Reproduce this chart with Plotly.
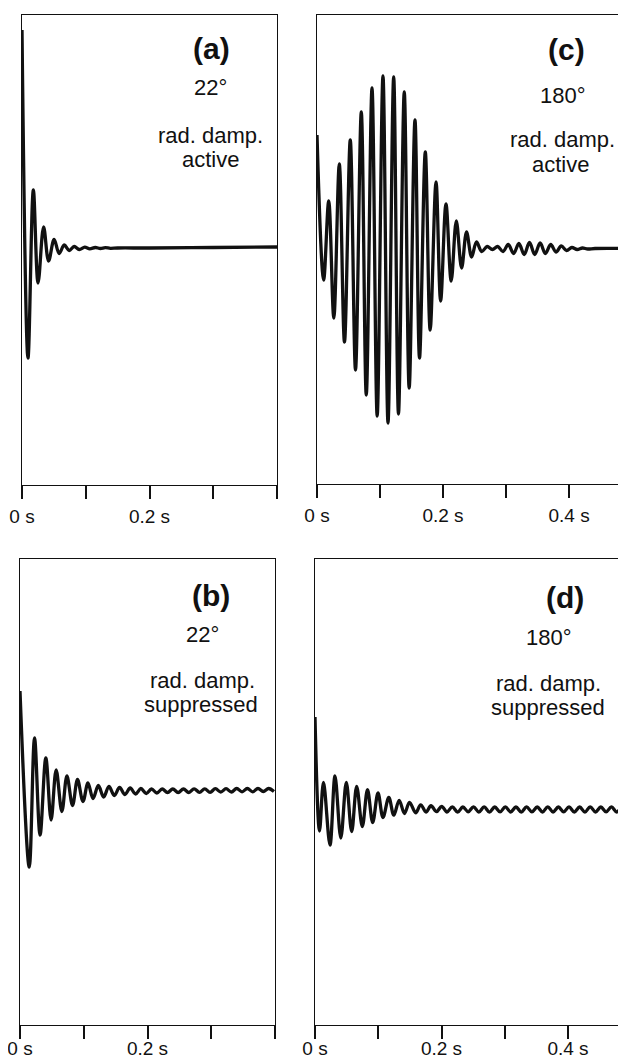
import plotly.graph_objects as go

# The page adds an 8 px body margin, so the figure is drawn 8 px smaller
# and all layout positions below are given in screen pixels minus that offset.
OFF = 8
W, H = 626 - OFF, 1059 - OFF

# ---- data (time in ms, amplitude in arbitrary units) ----
a_t = [0.0, 9.4, 17.8, 25.2, 33.9, 41.7, 50.4, 58.3, 66.2, 74.0, 81.9, 89.8,
       98.4, 106.3, 115.0, 122.9, 130.7, 138.6, 150.0, 200.0, 300.0, 400.0]
a_v = [218, -110, 58, -35, 21, -13, 8.5, -5.5, 3, -2.5, 1.5, -1.5,
       0.8, -0.8, 0.5, -0.5, 0.3, -0.3, 0, 0, 0.5, 1]

c_t = [0.0, 10.5, 18.6, 26.7, 35.4, 43.6, 52.8, 61.1, 70.3, 78.2, 87.3, 95.5,
       104.7, 112.7, 121.7, 129.3, 138.5, 146.3, 155.5, 162.7, 171.9, 179.6,
       188.9, 196.2, 204.7, 213.0, 221.1, 229.5, 237.3, 245.4, 253.1, 261.5,
       270.0, 278.4, 286.8, 295.2, 303.6, 312.0, 320.4, 328.8, 337.2, 345.6,
       354.1, 362.5, 370.9, 379.3, 387.7, 396.1, 404.5, 412.9, 421.3, 429.8,
       441.2, 495.0]
c_v = [113, -32, 47, -70, 84, -94, 108, -122, 136, -147, 160, -168,
       172, -175, 171, -166, 156, -140, 128, -110, 96, -82,
       66, -53, 44, -33, 27, -20, 16, -9, 6, -3.5,
       1.5, -1.5, 1.5, -3.5, 3.5, -5.5, 4.5, -6.5, 5.5, -6.5,
       5, -5.5, 3.5, -4, 2, -2.5, 0.5, -1.5, 0, -1,
       -0.5, -0.5]

b_t = [0.0, 14.5, 22.8, 31.5, 40.5, 48.8, 56.7, 65.7, 73.6, 82.4, 90.2, 98.8,
       106.6, 114.5, 122.9, 131.2, 139.5, 147.9, 156.2, 164.6, 172.9, 181.3,
       189.6, 198.0, 206.3, 214.7, 223.0, 231.4, 239.7, 248.1, 256.4, 264.8,
       273.1, 281.5, 289.8, 298.2, 306.5, 314.9, 323.2, 331.6, 339.9, 348.3,
       356.6, 365.0, 373.3, 381.7, 390.0, 398.4]
b_v = [99, -77, 52, -45, 32, -30, 20, -21.5, 14, -15.5, 10.5, -11.5,
       7, -8.5, 4.5, -7, 3.5, -5.5, 2.5, -4.5, 2, -4, 1.5, -3.5,
       1, -3, 1, -2.5, 1, -2.5, 1, -2.5, 1.2, -2.3, 1.2, -2.3,
       1.3, -2, 1.3, -2, 1.5, -1.8, 1.5, -1.8, 1.5, -1.5, 1.5, -1.5]

d_t = [0.0, 7.1, 13.4, 23.7, 31.6, 40.8, 49.5, 58.0, 65.9, 74.8, 83.0, 91.2,
       99.6, 107.5, 116.7, 124.6, 133.1, 141.5, 149.4, 159.2, 167.1, 175.5,
       183.4, 192.1, 200.3, 208.7, 217.1, 225.5, 233.8, 242.2, 250.6, 259.0,
       267.4, 275.8, 284.2, 292.6, 300.9, 309.3, 317.7, 326.1, 334.5, 342.9,
       351.3, 359.7, 368.0, 376.4, 384.8, 393.2, 401.6, 410.0, 418.4, 426.8,
       435.1, 443.5, 451.9, 460.3, 468.7, 477.1, 485.5, 493.9]
d_v = [91, -23, 25.5, -37, 32, -30, 25.5, -23.5, 21.5, -18.5, 18.3, -14.5,
       15, -9.5, 10.7, -7.2, 7.7, -5.5, 5.7, -4.8, 3.2, -4, 2.3, -3.7,
       1.7, -4, 1.2, -4.2, 1.0, -3.8, 1.2, -4, 1.1, -4.1, 1.0, -3.9,
       1.2, -4, 1.0, -4.1, 1.1, -3.9, 1.0, -4, 1.2, -4, 1.0, -3.9,
       1.1, -4, 1.0, -4.1, 1.2, -4, 1.0, -3.9, 1.1, -4, 1.0, -4]

tick_vals = [0, 100, 200, 300, 400]
tick_text_left = ["0 s", "", "0.2 s", "", ""]
tick_text_right = ["0 s", "", "0.2 s", "", "0.4 s"]


def px_x(x):
    return (x - OFF) / W


def px_y(y):
    return 1 - (y - OFF) / H


panels = [
    # key, t, v, x-left px, x-right px, y-top px, y-bottom px, x range, y range,
    # right border, label standoff, tick texts
    ("", a_t, a_v, 22, 277, 15, 485, [0, 400], [-237, 233], True, 1, tick_text_left),
    ("2", c_t, c_v, 317, 626, 15, 484, [0, 490.4], [-236, 233], False, 1, tick_text_right),
    ("3", b_t, b_v, 20, 275, 559, 1025, [0, 400], [-235, 231], True, -7, tick_text_left),
    ("4", d_t, d_v, 315, 626, 559, 1025, [0, 491.7], [-217, 249], False, -7, tick_text_right),
]

INK = "#111111"
FONT = "Liberation Sans, Arial, Helvetica, sans-serif"

fig = go.Figure()
layout = dict(template="none", width=W, height=H,
              margin=dict(l=0, r=0, t=0, b=0, pad=0, autoexpand=False),
              paper_bgcolor="white", plot_bgcolor="white", showlegend=False,
              font=dict(family=FONT, color=INK))

for key, t, v, xl, xr, yt, yb, xrng, yrng, rb, so, ttext in panels:
    fig.add_trace(go.Scatter(x=t, y=v, mode="lines",
                             line=dict(color=INK, width=3.3, shape="spline", smoothing=1.0),
                             xaxis="x" + key, yaxis="y" + key, hoverinfo="skip"))
    layout["xaxis" + key] = dict(
        domain=[px_x(xl), px_x(xr)], range=xrng, anchor="y" + key, automargin=False,
        showline=True, linecolor=INK, linewidth=1.3, mirror=True,
        ticks="outside", ticklen=13, tickwidth=1.5, tickcolor=INK,
        tickvals=tick_vals, ticktext=ttext, showgrid=False, zeroline=False,
        ticklabelstandoff=so, ticklabeloverflow="allow",
        tickfont=dict(family=FONT, size=19, color=INK),
        fixedrange=True)
    layout["yaxis" + key] = dict(
        domain=[px_y(yb), px_y(yt)], range=yrng, anchor="x" + key, automargin=False,
        showline=True, linecolor=INK, linewidth=1.3, mirror=rb,
        ticks="", showticklabels=False, showgrid=False, zeroline=False,
        fixedrange=True)

labels = [
    ("(a)", 211, 48, 30, True), ("22°", 210, 88, 22, False),
    ("rad. damp.", 210, 135, 22, False), ("active", 210, 160, 22, False),
    ("(c)", 566, 49, 30, True), ("180°", 563, 96, 22, False),
    ("rad. damp.", 562, 139, 22, False), ("active", 560, 165, 22, False),
    ("(b)", 211, 595, 30, True), ("22°", 202, 634, 22, False),
    ("rad. damp.", 202, 680, 22, False), ("suppressed", 201, 704, 22, False),
    ("(d)", 565, 597, 30, True), ("180°", 549, 637, 22, False),
    ("rad. damp.", 548, 683, 22, False), ("suppressed", 548, 707, 22, False),
]
ann = []
for txt, px, py, sz, bold in labels:
    ann.append(dict(text=txt, x=px_x(px), y=px_y(py), xref="paper", yref="paper",
                    xanchor="center", yanchor="middle", showarrow=False,
                    font=dict(family=FONT, size=sz, color=INK,
                              weight="bold" if bold else "normal")))
layout["annotations"] = ann

fig.update_layout(**layout)
fig.write_html("out.html")
